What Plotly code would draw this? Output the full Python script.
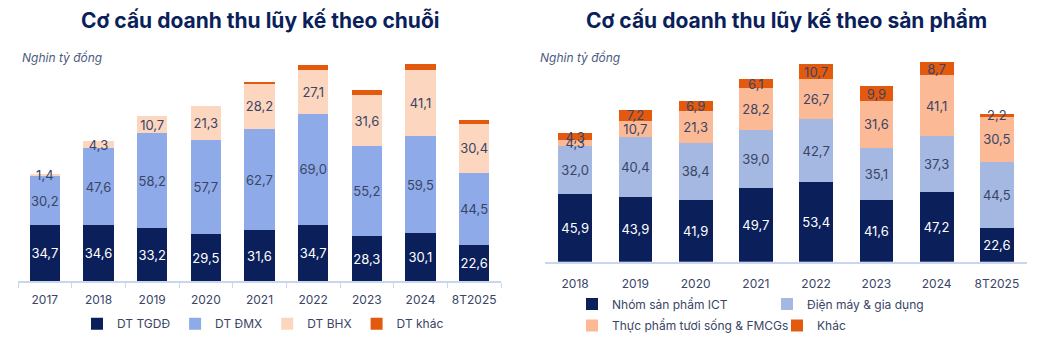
import plotly.graph_objects as go

# ---- Left chart data (theo chuỗi) ----
years_l = ["2017", "2018", "2019", "2020", "2021", "2022", "2023", "2024", "8T2025"]
tgdd = [34.7, 34.6, 33.2, 29.5, 31.6, 34.7, 28.3, 30.1, 22.6]
dmx = [30.2, 47.6, 58.2, 57.7, 62.7, 69.0, 55.2, 59.5, 44.5]
bhx = [1.4, 4.3, 10.7, 21.3, 28.2, 27.1, 31.6, 41.1, 30.4]
khac_l = [0, 0, 0, 0, 0.8, 2.7, 3.3, 3.7, 2.2]

# ---- Right chart data (theo sản phẩm) ----
years_r = ["2018", "2019", "2020", "2021", "2022", "2023", "2024", "8T2025"]
ict = [45.9, 43.9, 41.9, 49.7, 53.4, 41.6, 47.2, 22.6]
dienmay = [32.0, 40.4, 38.4, 39.0, 42.7, 35.1, 37.3, 44.5]
thucpham = [4.3, 10.7, 21.3, 28.2, 26.7, 31.6, 41.1, 30.5]
khac_r = [4.3, 7.2, 6.9, 6.1, 10.7, 9.9, 8.7, 2.2]

W, H = 1037, 340
FONT = "Inter"
NAVY = "#0b1f5b"
TXT = "#3a4566"
C_NAVY = "#0b1f5b"
C_DMX = "#8eaae8"
C_DM_R = "#a4b8e2"
C_BHX = "#fdd6bf"
C_TP_R = "#fbb995"
C_KHAC = "#e35a0e"


def px_x(v):
    return v / W


def px_y(v):
    return (H - v) / H


fig = go.Figure()


def add_bar(x, y, name, color, txtcolor, xa, ya, legend, show_text=True):
    fig.add_trace(go.Bar(
        x=x, y=y, name=name, xaxis=xa, yaxis=ya, legend=legend,
        marker=dict(color=color, line=dict(width=0)),
        texttemplate="%{y:.1f}" if show_text else None,
        textposition="inside" if show_text else "none",
        insidetextanchor="middle",
        constraintext="none",
        textangle=0,
        insidetextfont=dict(family=FONT, size=13, color=txtcolor),
        hoverinfo="x+y+name",
    ))


add_bar(years_l, tgdd, "DT TGDĐ", C_NAVY, "white", "x", "y", "legend")
add_bar(years_l, dmx, "DT ĐMX", C_DMX, TXT, "x", "y", "legend")
add_bar(years_l, bhx, "DT BHX", C_BHX, TXT, "x", "y", "legend")
add_bar(years_l, khac_l, "DT khác", C_KHAC, TXT, "x", "y", "legend", show_text=False)

add_bar(years_r, ict, "Nhóm sản phẩm ICT", C_NAVY, "white", "x2", "y2", "legend2")
add_bar(years_r, dienmay, "Điện máy & gia dụng", C_DM_R, TXT, "x2", "y2", "legend2")
add_bar(years_r, thucpham, "Thực phẩm tươi sống & FMCGs", C_TP_R, TXT, "x2", "y2", "legend3")
add_bar(years_r, khac_r, "Khác", C_KHAC, TXT, "x2", "y2", "legend3")

axis_line = "#c9d6f0"
leg_font = dict(family=FONT, size=12, color=TXT)

fig.update_layout(
    width=W, height=H,
    margin=dict(l=0, r=0, t=0, b=0),
    paper_bgcolor="white", plot_bgcolor="white",
    separators=",.",
    barmode="stack",
    bargap=0.44,
    font=dict(family=FONT, color=TXT),
    xaxis=dict(domain=[px_x(18), px_x(501)], anchor="y", type="category",
               showline=True, linecolor=axis_line, linewidth=1.5,
               ticks="outside", tickson="boundaries", ticklen=5, tickcolor=axis_line,
               tickangle=0, ticklabelstandoff=6,
               tickfont=dict(family=FONT, size=12, color=TXT), showgrid=False),
    yaxis=dict(domain=[px_y(284), 1], range=[0, 284 / 1.634], visible=False),
    xaxis2=dict(domain=[px_x(545), px_x(1027)], anchor="y2", type="category",
                showline=True, linecolor=axis_line, linewidth=1.5,
                ticks="", tickangle=0, ticklabelstandoff=10,
                tickfont=dict(family=FONT, size=12, color=TXT), showgrid=False),
    yaxis2=dict(domain=[px_y(264), 1], range=[0, 264 / 1.497], visible=False),
    legend=dict(orientation="h", x=px_x(263), xanchor="center", y=px_y(312), yanchor="top",
                font=leg_font, traceorder="normal", bgcolor="rgba(0,0,0,0)"),
    legend2=dict(orientation="h", x=px_x(572), xanchor="left", y=px_y(292), yanchor="top",
                 font=leg_font, traceorder="normal", entrywidth=150, entrywidthmode="pixels",
                 bgcolor="rgba(0,0,0,0)"),
    legend3=dict(orientation="h", x=px_x(572), xanchor="left", y=px_y(314), yanchor="top",
                 font=leg_font, traceorder="normal", entrywidth=160, entrywidthmode="pixels",
                 bgcolor="rgba(0,0,0,0)"),
    showlegend=True,
    annotations=[
        dict(text="<b>Cơ cấu doanh thu lũy kế theo chuỗi</b>", x=px_x(260), y=px_y(21),
             xref="paper", yref="paper", showarrow=False, xanchor="center", yanchor="middle",
             font=dict(family=FONT, size=21, color=NAVY)),
        dict(text="<b>Cơ cấu doanh thu lũy kế theo sản phẩm</b>", x=px_x(786), y=px_y(21),
             xref="paper", yref="paper", showarrow=False, xanchor="center", yanchor="middle",
             font=dict(family=FONT, size=21, color=NAVY)),
        dict(text="<i>Nghin tỷ đồng</i>", x=px_x(20), y=px_y(58),
             xref="paper", yref="paper", showarrow=False, xanchor="left", yanchor="middle",
             font=dict(family=FONT, size=12, color="#4a5a80")),
        dict(text="<i>Nghin tỷ đồng</i>", x=px_x(538), y=px_y(58),
             xref="paper", yref="paper", showarrow=False, xanchor="left", yanchor="middle",
             font=dict(family=FONT, size=12, color="#4a5a80")),
    ],
)

fig.write_html("out.html")
